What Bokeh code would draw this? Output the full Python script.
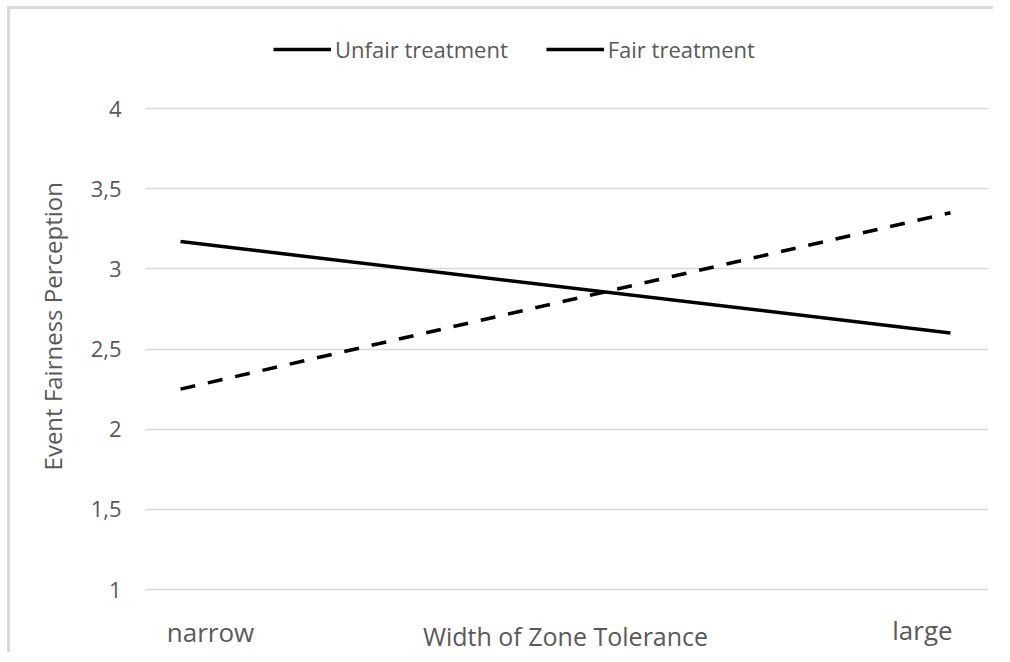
from bokeh.plotting import figure
from bokeh.models import Range1d, Legend, LegendItem, Label, FixedTicker, CustomJSTickFormatter
from bokeh.embed import file_html
from bokeh.resources import INLINE

# ---- data ----
categories = ["narrow", "large"]
series_names = ["Unfair treatment", "Fair treatment"]
unfair = [3.17, 2.60]
fair = [2.25, 3.35]
y_ticks = [1, 1.5, 2, 2.5, 3, 3.5, 4]
x_title = "Width of Zone Tolerance"
y_title = "Event  Fairness Perception"

xs = list(range(len(categories)))

FONT = "Open Sans"
GRAY = "#595959"
GRID = "#d9d9d9"

p = figure(width=986, height=646, output_backend="svg", toolbar_location=None,
           x_range=Range1d(-0.0455, 1.0494), y_range=Range1d(0.5884, 4.6175),
           min_border_left=135, min_border_right=8, min_border_top=0, min_border_bottom=0)
p.styles = {"margin-left": "10px", "margin-top": "9px", "border": "none", "outline": "none",
            "box-shadow": "-3px -3px 0px 0px #d9d9d9"}
p.outline_line_color = None
p.background_fill_color = "white"
p.border_fill_color = "white"

# grid
p.xgrid.visible = False
p.ygrid.ticker = FixedTicker(ticks=y_ticks)
p.ygrid.grid_line_color = GRID
p.ygrid.grid_line_width = 1.3

# y axis
p.yaxis.ticker = FixedTicker(ticks=y_ticks)
p.yaxis.formatter = CustomJSTickFormatter(code="return tick.toString().replace('.', ',');")
p.yaxis.axis_line_color = None
p.yaxis.major_tick_line_color = None
p.yaxis.minor_tick_line_color = None
p.yaxis.major_tick_out = 0
p.yaxis.major_tick_in = 0
p.yaxis.major_label_standoff = 24
p.yaxis.major_label_text_font = FONT
p.yaxis.major_label_text_font_size = "22px"
p.yaxis.major_label_text_color = GRAY
p.yaxis.axis_label = "\u00a0\u00a0\u00a0" + y_title
p.yaxis.axis_label_text_font = FONT
p.yaxis.axis_label_text_font_size = "24px"
p.yaxis.axis_label_text_font_style = "normal"
p.yaxis.axis_label_text_color = GRAY
p.yaxis.axis_label_standoff = 19

# x axis hidden; its title and category names are drawn as labels below the grid
p.xaxis.visible = False
p.add_layout(Label(x=sum(xs) / len(xs), y=0.713, text=x_title, text_align="center",
                   text_baseline="middle", text_font=FONT, text_font_size="25px",
                   text_color=GRAY))

cat_offsets = [30, -28]
cat_y = [0.732, 0.745]
for i, c in enumerate(categories):
    p.add_layout(Label(x=xs[i], y=cat_y[i], text=c, x_offset=cat_offsets[i],
                       text_align="center", text_baseline="middle",
                       text_font=FONT, text_font_size="26px", text_color=GRAY))

# series
r_unfair = p.line(xs, unfair, line_color="black", line_width=3.5)
r_fair = p.line(xs, fair, line_color="black", line_width=3.5, line_dash="15 13")

# legend: the original draws both entries as solid lines
nan = float("nan")
leg_fair = p.line([nan], [nan], line_color="black", line_width=3.5)
legend = Legend(items=[LegendItem(label=series_names[0], renderers=[r_unfair]),
                       LegendItem(label=series_names[1], renderers=[leg_fair])],
                orientation="horizontal", location=(128, 591),
                padding=0, spacing=38, glyph_width=58, glyph_height=20,
                label_standoff=4, border_line_color=None, background_fill_alpha=0,
                label_text_font=FONT, label_text_font_size="22px", label_text_color=GRAY)
p.add_layout(legend)

open("out.html", "w").write(file_html(p, INLINE))
